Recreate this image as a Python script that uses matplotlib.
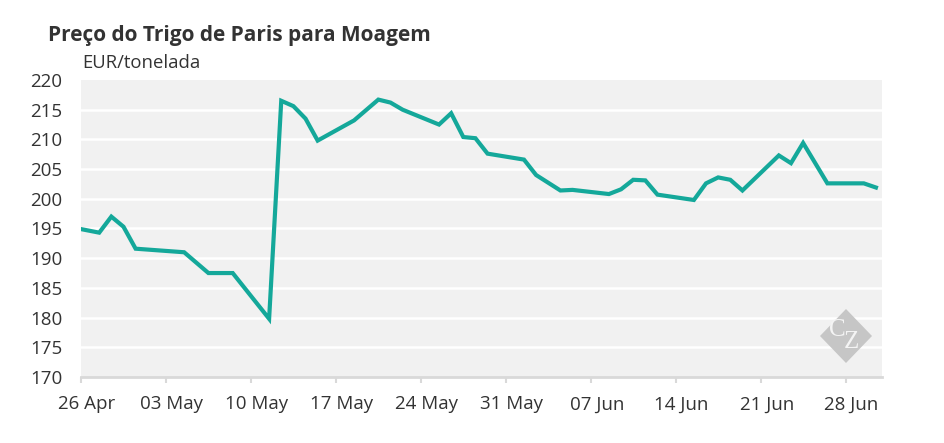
import matplotlib
matplotlib.use('Agg')
import matplotlib.pyplot as plt
import matplotlib.transforms as mtransforms
from matplotlib.patches import Polygon
import pandas as pd

# trading dates and closing prices (EUR/t)
trade_dates = ['2021-04-23', '2021-04-26', '2021-04-27', '2021-04-28', '2021-04-29',
               '2021-05-03', '2021-05-05', '2021-05-07', '2021-05-10', '2021-05-11',
               '2021-05-12', '2021-05-13', '2021-05-14', '2021-05-17', '2021-05-19',
               '2021-05-20', '2021-05-21', '2021-05-24', '2021-05-25', '2021-05-26',
               '2021-05-27', '2021-05-28', '2021-05-31', '2021-06-01', '2021-06-03',
               '2021-06-04', '2021-06-07', '2021-06-08', '2021-06-09', '2021-06-10',
               '2021-06-11', '2021-06-14', '2021-06-15', '2021-06-16', '2021-06-17',
               '2021-06-18', '2021-06-21', '2021-06-22', '2021-06-23', '2021-06-25',
               '2021-06-28', '2021-06-29']
prices = [195.5, 194.3, 197.0, 195.3, 191.6,
          191.0, 187.5, 187.5, 179.8, 216.5,
          215.6, 213.5, 209.8, 213.2, 216.7,
          216.2, 215.0, 212.5, 214.4, 210.4,
          210.2, 207.6, 206.6, 204.0, 201.4,
          201.5, 200.8, 201.6, 203.2, 203.1,
          200.7, 199.8, 202.6, 203.6, 203.2,
          201.4, 207.3, 206.0, 209.4, 202.6,
          202.6, 201.9]

tick_dates = ['2021-04-26', '2021-05-03', '2021-05-10', '2021-05-17', '2021-05-24',
              '2021-05-31', '2021-06-07', '2021-06-14', '2021-06-21', '2021-06-28']
tick_labels = ['26 Apr', '03 May', '10 May', '17 May', '24 May',
               '31 May', '07 Jun', '14 Jun', '21 Jun', '28 Jun']
y_ticks = [170, 175, 180, 185, 190, 195, 200, 205, 210, 215, 220]

title = 'Preço do Trigo de Paris para Moagem'
unit = 'EUR/tonelada'

plt.rcParams['font.family'] = ['Open Sans', 'DejaVu Sans']

W, H = 945, 443
fig = plt.figure(figsize=(W / 100, H / 100), dpi=100)
ax = fig.add_axes([81 / W, 1 - 377 / H, (882 - 81) / W, (377 - 80) / H])

# points sit 1.5 days right of their date on this chart
x = pd.to_datetime(trade_dates) + pd.Timedelta(hours=36)
ax.plot(x, prices, color='#14a89a', linewidth=3.0, solid_joinstyle='miter',
        zorder=3, clip_on=True)

ax.set_facecolor('#f1f1f1')
ax.set_xlim(pd.Timestamp('2021-04-26'), pd.Timestamp('2021-07-01'))
ax.set_ylim(170, 220)

ax.set_yticks(y_ticks)
ax.set_yticklabels([str(v) for v in y_ticks], fontsize=13.5, color='#333333')
ax.tick_params(axis='y', length=0, pad=13.5)
for v in y_ticks[1:-1]:
    ax.axhline(v, color='white', linewidth=1.8, zorder=1)

ax.set_xticks(pd.to_datetime(tick_dates))
ax.set_xticklabels(tick_labels, fontsize=13.5, color='#333333')
ax.tick_params(axis='x', length=4.3, width=1.5, color='#d9d9d9', pad=9)
shift = mtransforms.ScaledTranslation(0.06, 0, fig.dpi_scale_trans)
for lbl in ax.get_xticklabels():
    lbl.set_transform(lbl.get_transform() + shift)

for s in ['top', 'right', 'left']:
    ax.spines[s].set_visible(False)
ax.spines['bottom'].set_color('#d9d9d9')
ax.spines['bottom'].set_linewidth(2)

fig.text(48 / W, 1 - 35 / H, title, fontsize=15, fontweight='bold',
         color='#333333', va='center', ha='left')
fig.text(82 / W, 1 - 63 / H, unit, fontsize=13.3, color='#333333',
         va='center', ha='left')

# watermark
cx, cy, rx, ry = 846, 336, 26, 27
diamond = Polygon([((cx - rx) / W, 1 - cy / H), (cx / W, 1 - (cy - ry) / H),
                   ((cx + rx) / W, 1 - cy / H), (cx / W, 1 - (cy + ry) / H)],
                  closed=True, transform=fig.transFigure, facecolor='#c6c6c6',
                  edgecolor='none', zorder=5)
fig.patches.append(diamond)
fig.text(837 / W, 1 - 330 / H, 'C', family='Liberation Serif', fontsize=18,
         color='#f4f4f4', ha='center', va='center', zorder=6)
fig.text(851 / W, 1 - 342 / H, 'Z', family='Liberation Serif', fontsize=18,
         color='#f4f4f4', ha='center', va='center', zorder=6)

fig.savefig('out.png', dpi=100)
